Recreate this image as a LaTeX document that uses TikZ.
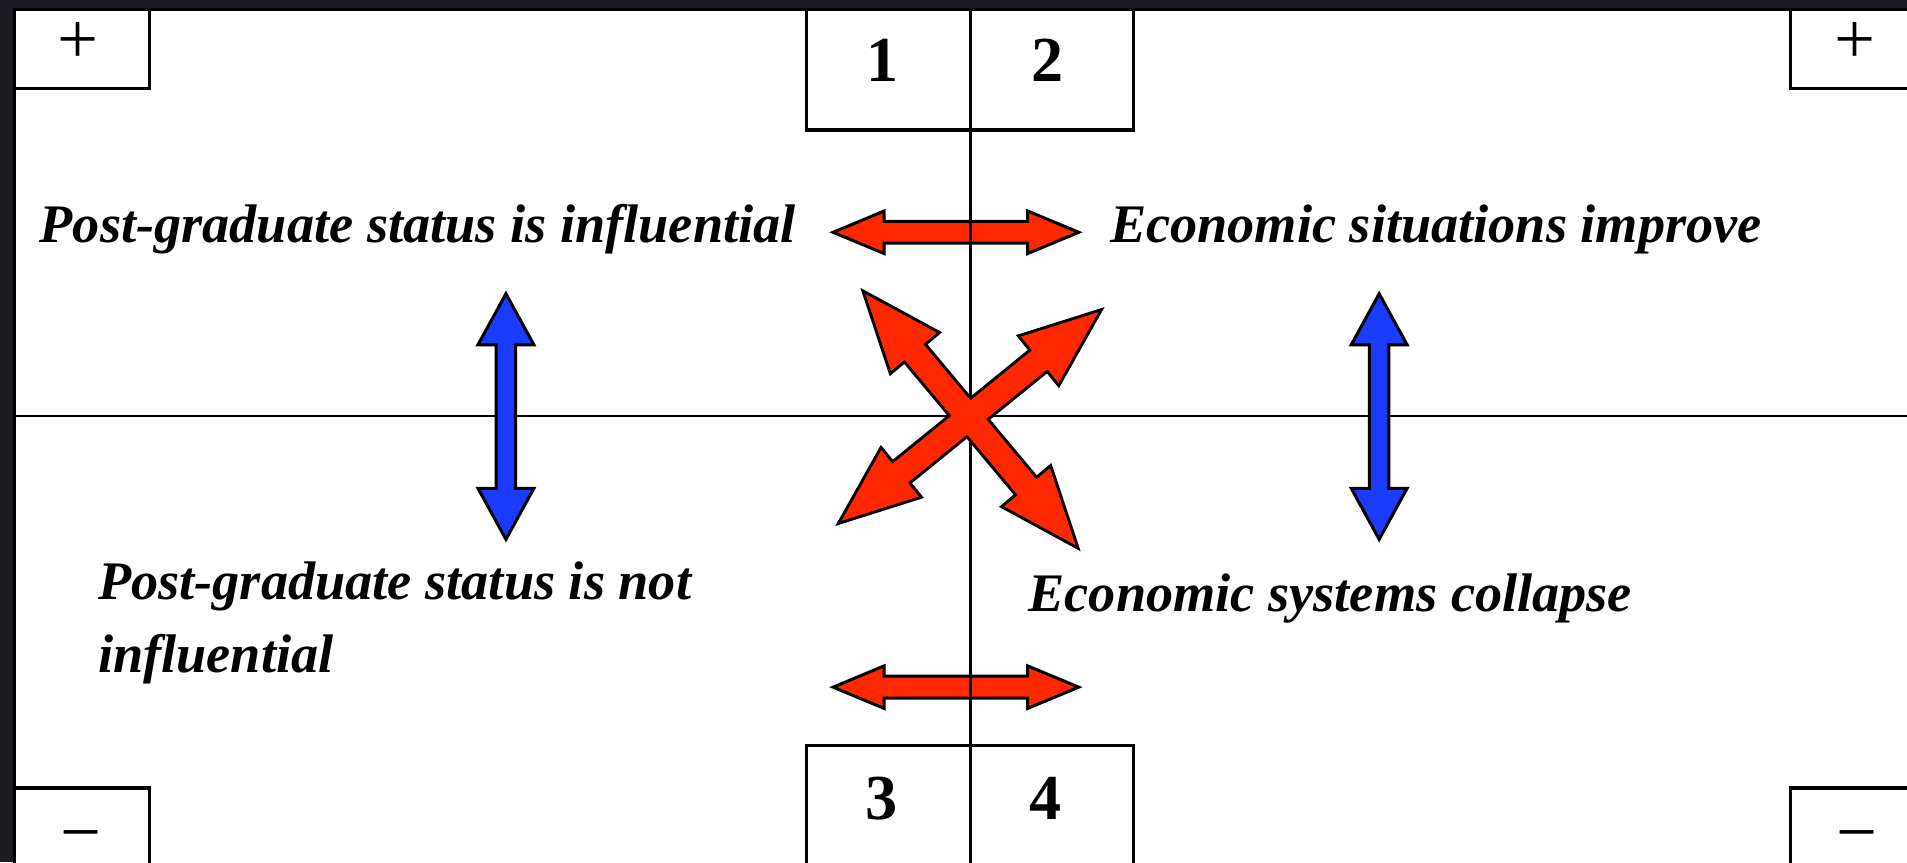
\documentclass[tikz,border=0pt]{standalone}
\usepackage{fontspec}
\setmainfont{Liberation Serif}
\definecolor{arrowred}{RGB}{255,40,0}
\definecolor{arrowblue}{RGB}{25,60,255}
\definecolor{darkframe}{RGB}{28,28,34}
% outline of a fat two-headed arrow along the x axis:
% half length, half shaft width, half head width, head length
\newcommand{\fatarrow}[4]{(-#1,0) -- (-#1+#4,#3) -- (-#1+#4,#2) -- (#1-#4,#2) -- (#1-#4,#3) -- (#1,0) -- (#1-#4,-#3) -- (#1-#4,-#2) -- (-#1+#4,-#2) -- (-#1+#4,-#3) -- cycle}
\begin{document}
\begin{tikzpicture}[x=0.01cm,y=-0.01cm,
  boxline/.style={line width=0.8pt},
  axis/.style={line width=0.6pt},
  lbl/.style={inner sep=0pt,font=\fontsize{12.7}{15}\selectfont\bfseries\itshape},
  numlbl/.style={inner sep=0pt,font=\fontsize{15}{18}\selectfont\bfseries},
  signlbl/.style={inner sep=0pt,font=\fontsize{17}{20}\selectfont},
  redarrow/.style={draw=black,fill=arrowred,line width=0.7pt,line join=miter},
  bluearrow/.style={draw=black,fill=arrowblue,line width=0.7pt,line join=miter}]
\useasboundingbox (0,0) rectangle (1568,709);
\clip (0,0) rectangle (1568,709);
\fill[darkframe] (0,0) rectangle (1568,709);
\draw[boxline,fill=white] (12,8) rectangle (1580,720);

% corner boxes
\draw[boxline] (12,8) rectangle (123,73);
\draw[boxline] (1472,8) rectangle (1580,73);
\draw[boxline] (12,648) rectangle (123,720);
\draw[boxline] (1472,648) rectangle (1580,720);
\node[signlbl,anchor=base] (plusTL) at (64,52) {+};
\node[signlbl,anchor=base] (plusTR) at (1525,52) {+};
\node[signlbl,anchor=base] (minusBL) at (67,704) {−};
\node[signlbl,anchor=base] (minusBR) at (1527,704) {−};

% numbered boxes
\draw[boxline] (663,8) rectangle (932,107);
\draw[boxline] (663,613) rectangle (932,720);
\node[numlbl,anchor=base] (one) at (726,67) {1};
\node[numlbl,anchor=base] (two) at (861,67) {2};
\node[numlbl,anchor=base] (three) at (725,674) {3};
\node[numlbl,anchor=base] (four) at (860,674) {4};

% horizontal red arrows
\begin{scope}[shift={(786,191)}]
\draw[redarrow] \fatarrow{101}{9}{17.5}{42};
\end{scope}
\begin{scope}[shift={(786,565)}]
\draw[redarrow] \fatarrow{101}{9}{17.5}{42};
\end{scope}

% axes
\draw[axis] (12,342) -- (1580,342);
\draw[axis] (798,8) -- (798,720);

% blue arrows
\begin{scope}[shift={(416,342.5)},rotate=90]
\draw[bluearrow] \fatarrow{101}{8}{23}{42};
\end{scope}
\begin{scope}[shift={(1134,342.5)},rotate=90]
\draw[bluearrow] \fatarrow{101}{8}{23}{42};
\end{scope}

% crossed red arrows, one outline for both
\begin{scope}[shift={(798,345)},rotate=-50.1]
\draw[line width=1.4pt,line join=miter] \fatarrow{134.5}{10}{24.5}{62};
\end{scope}
\begin{scope}[shift={(797.5,342.5)},rotate=39.1]
\draw[line width=1.4pt,line join=miter] \fatarrow{136}{10}{24.5}{62};
\end{scope}
\begin{scope}[shift={(798,345)},rotate=-50.1]
\fill[arrowred] \fatarrow{134.5}{10}{24.5}{62};
\end{scope}
\begin{scope}[shift={(797.5,342.5)},rotate=39.1]
\fill[arrowred] \fatarrow{136}{10}{24.5}{62};
\end{scope}

% labels
\node[lbl,anchor=base east] (pgyes) at (655,199) {Post-graduate status is influential};
\node[lbl,anchor=base west] (ecoup) at (912,199) {Economic situations improve};
\node[lbl,anchor=base west] (pgno) at (80,493) {Post-graduate status is not};
\node[lbl,anchor=base west] (pgnob) at (80,553) {influential};
\node[lbl,anchor=base west] (ecodown) at (845,503) {Economic systems collapse};
\end{tikzpicture}
\end{document}
